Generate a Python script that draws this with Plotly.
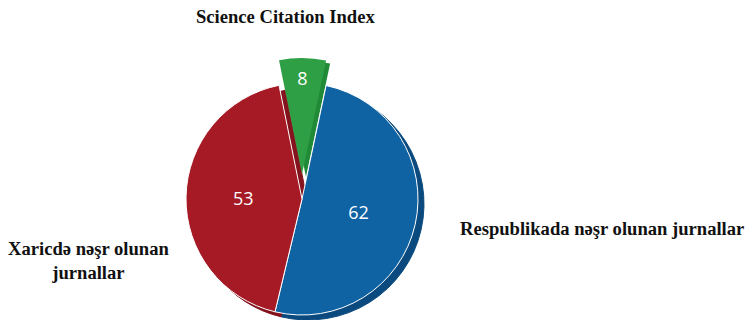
import plotly.graph_objects as go

# Journal publication counts by category
categories = ["Respublikada nəşr olunan jurnallar", "Xaricdə nəşr olunan jurnallar", "Science Citation Index"]
values = [62, 53, 8]

face_colors = ["#0F63A3", "#A51A25", "#2F9F45"]
side_colors = ["#0B4A7E", "#85131D", "#218A36"]
CLEAR = "rgba(0,0,0,0)"

W, H = 749, 320
cx, cy = 302, 199       # pie centre (px from top-left)
r = 116                 # pie radius (px)
lift = 25               # how far the small slice is pulled out (px)
depth = (6, 5)          # offset of the darker side layer (px)
small_depth = (4, 3)    # side offset for the pulled-out slice (px)


def domain(x0, y0):
    lo = max(0.0, (H - y0 - r) / H)
    hi = min(1.0, (H - y0 + r) / H)
    return dict(x=[(x0 - r) / W, (x0 + r) / W], y=[lo, hi])


def pie(colors, texts, dom, line_colors, line_width=1):
    return go.Pie(
        labels=categories, values=values, sort=False, direction="clockwise",
        rotation=12, domain=dom,
        marker=dict(colors=colors, line=dict(color=line_colors, width=line_width)),
        texttemplate=texts, textposition="inside",
        insidetextorientation="horizontal",
        insidetextfont=dict(family="Open Sans, Noto Sans, sans-serif", size=18, color="white"),
        hoverinfo="skip", showlegend=False,
    )


no_text = ["", "", ""]
fig = go.Figure()
# darker side layers
fig.add_trace(pie([side_colors[0], side_colors[1], CLEAR], no_text,
                  domain(cx + depth[0], cy + depth[1]), [side_colors[0], side_colors[1], CLEAR]))
fig.add_trace(pie([CLEAR, CLEAR, side_colors[2]], no_text,
                  domain(cx + small_depth[0], cy - lift + small_depth[1]),
                  [CLEAR, CLEAR, side_colors[2]], 0))
# top faces
fig.add_trace(pie([face_colors[0], face_colors[1], CLEAR], ["%{value}", "%{value}", ""],
                  domain(cx, cy), ["white", "white", CLEAR]))
fig.add_trace(pie([CLEAR, CLEAR, face_colors[2]], ["", "", "%{value}"],
                  domain(cx, cy - lift), [CLEAR, CLEAR, CLEAR], 0))

label_font = dict(family="Liberation Serif, Times New Roman, serif", size=18.6, color="#111111")
fig.add_annotation(text="<b>Science Citation Index</b>", x=285 / W, y=(H - 16) / H,
                   xref="paper", yref="paper", showarrow=False, font=label_font,
                   xanchor="center", yanchor="middle")
fig.add_annotation(text="<b>Respublikada nəşr olunan jurnallar</b>", x=602 / W, y=(H - 228) / H,
                   xref="paper", yref="paper", showarrow=False, font=label_font,
                   xanchor="center", yanchor="middle")
fig.add_annotation(text="<b>Xaricdə nəşr olunan<br>jurnallar</b>", x=88 / W, y=(H - 260) / H,
                   xref="paper", yref="paper", showarrow=False, font=label_font,
                   xanchor="center", yanchor="middle")

fig.update_layout(width=W, height=H, margin=dict(l=0, r=0, t=0, b=0),
                  paper_bgcolor="white", plot_bgcolor="white")
fig.write_html("out.html")
